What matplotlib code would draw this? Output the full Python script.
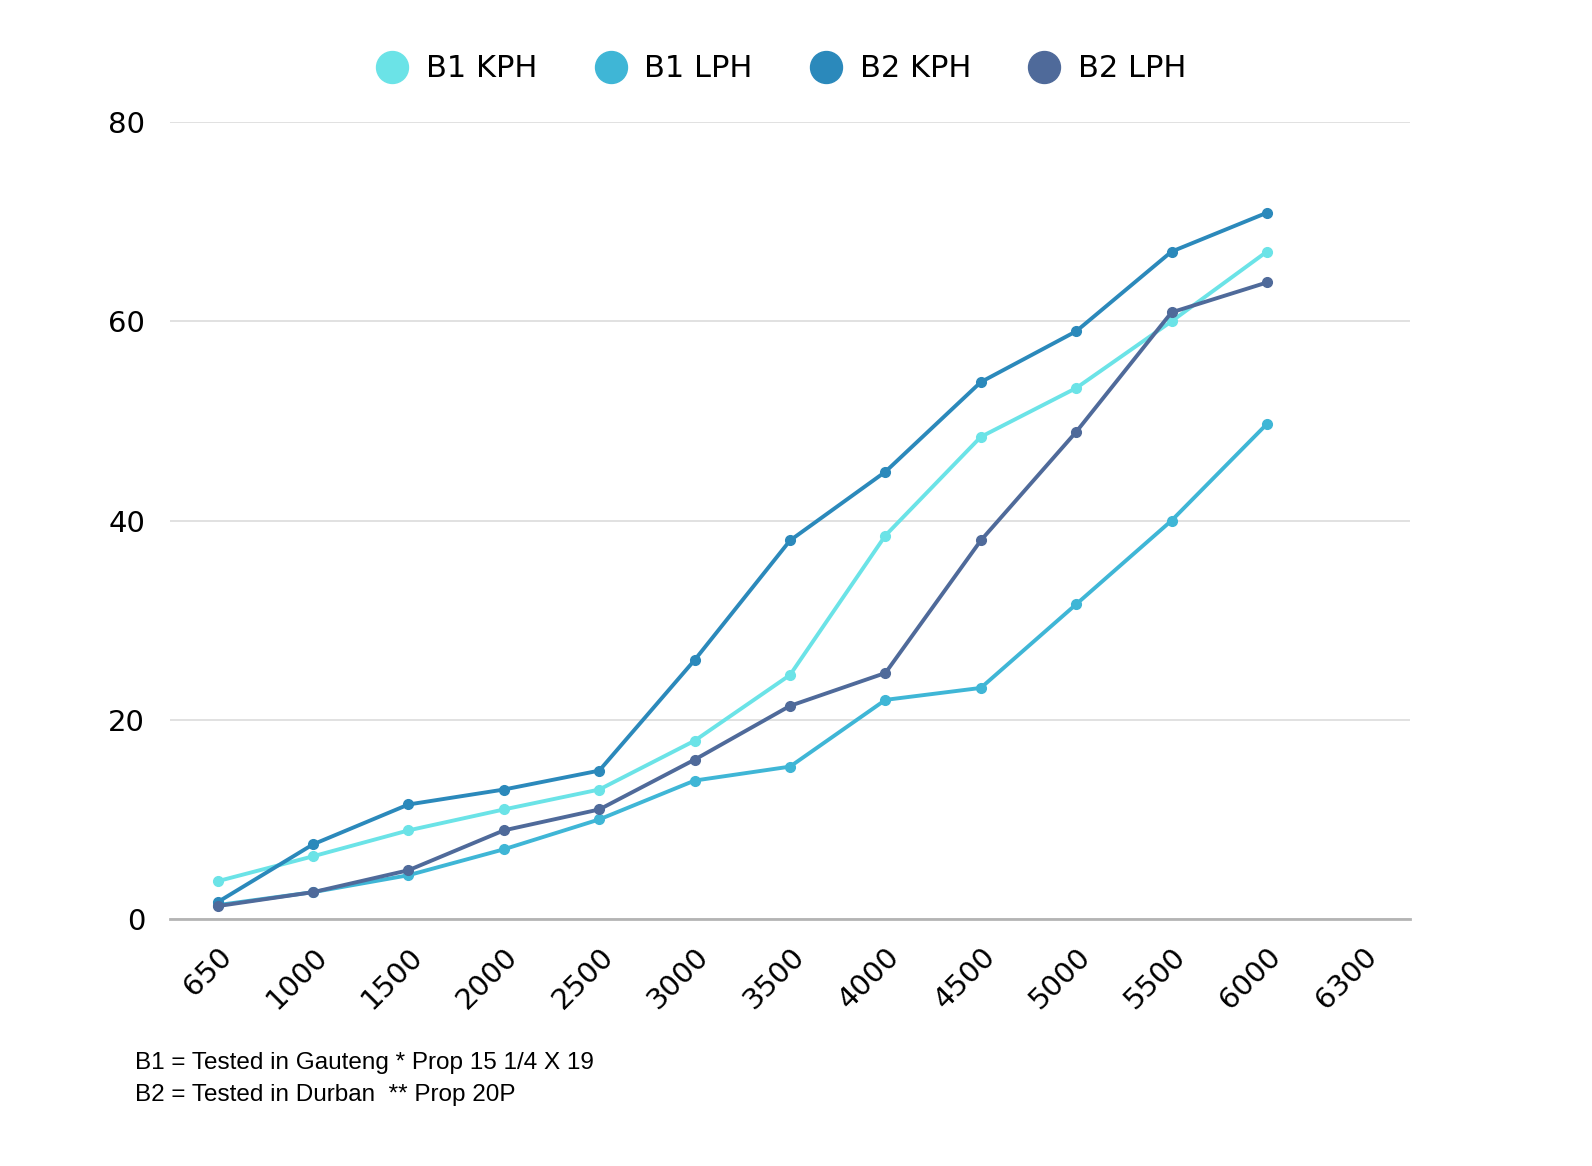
import numpy as np
import matplotlib
matplotlib.use('Agg')
import matplotlib.pyplot as plt
from matplotlib.lines import Line2D

# categories on the x axis (last one has no data)
rpm = ['650', '1000', '1500', '2000', '2500', '3000', '3500', '4000',
       '4500', '5000', '5500', '6000', '6300']

b1_kph = [3.8, 6.3, 8.9, 11.0, 13.0, 17.9, 24.5, 38.5, 48.4, 53.3, 60.0, 67.0]
b1_lph = [1.4, 2.7, 4.4, 7.0, 10.0, 13.9, 15.3, 22.0, 23.2, 31.6, 40.0, 49.7]
b2_kph = [1.7, 7.5, 11.5, 13.0, 14.9, 26.0, 38.0, 44.9, 53.9, 59.0, 67.0, 70.9]
b2_lph = [1.3, 2.7, 4.9, 8.9, 11.0, 16.0, 21.4, 24.7, 38.0, 48.9, 60.9, 63.9]

names = ['B1 KPH', 'B1 LPH', 'B2 KPH', 'B2 LPH']
colors = ['#6be3e7', '#3fb6d6', '#2b89bb', '#4f6a9a']
series = [b1_kph, b1_lph, b2_kph, b2_lph]

yticks = [0, 20, 40, 60, 80]
notes = ['B1 = Tested in Gauteng * Prop 15 1/4 X 19',
         'B2 = Tested in Durban  ** Prop 20P']

fig = plt.figure(figsize=(15.92, 11.66), dpi=100)
ax = fig.add_axes([0.1068, 0.2118, 0.7789, 0.6835])

x = np.arange(len(rpm))
for vals, c in zip(series, colors):
    ax.plot(x[:len(vals)], vals, color=c, lw=2.8, marker='o', ms=7,
            solid_capstyle='round', zorder=3)

ax.set_xlim(-0.5, len(rpm) - 0.5)
ax.set_ylim(0, 80)
ax.set_yticks(yticks)
ax.set_xticks(x)
ax.set_xticklabels(rpm, rotation=45, ha='right', va='top',
                   rotation_mode='anchor', fontsize=21, family='DejaVu Sans')
ax.tick_params(axis='x', length=0, pad=17)
ax.tick_params(axis='y', length=0, pad=18, labelsize=21)

ax.grid(axis='y', color='#dcdcdc', lw=1.2, zorder=0)
for s in ['top', 'right', 'left']:
    ax.spines[s].set_visible(False)
ax.spines['bottom'].set_color('#b4b4b4')
ax.spines['bottom'].set_linewidth(2)

handles = [Line2D([], [], ls='none', marker='o', ms=23, color=c) for c in colors]
fig.legend(handles, names, loc='center', bbox_to_anchor=(0.491, 0.941),
           ncol=4, frameon=False, fontsize=22, handlelength=1.0,
           handletextpad=0.6, columnspacing=1.9)

for i, line in enumerate(notes):
    fig.text(0.0848, 0.0881 - i * 0.0268, line, fontsize=17.5,
             family='Liberation Sans', va='center', ha='left')

fig.savefig('out.png', dpi=100, facecolor='white')
